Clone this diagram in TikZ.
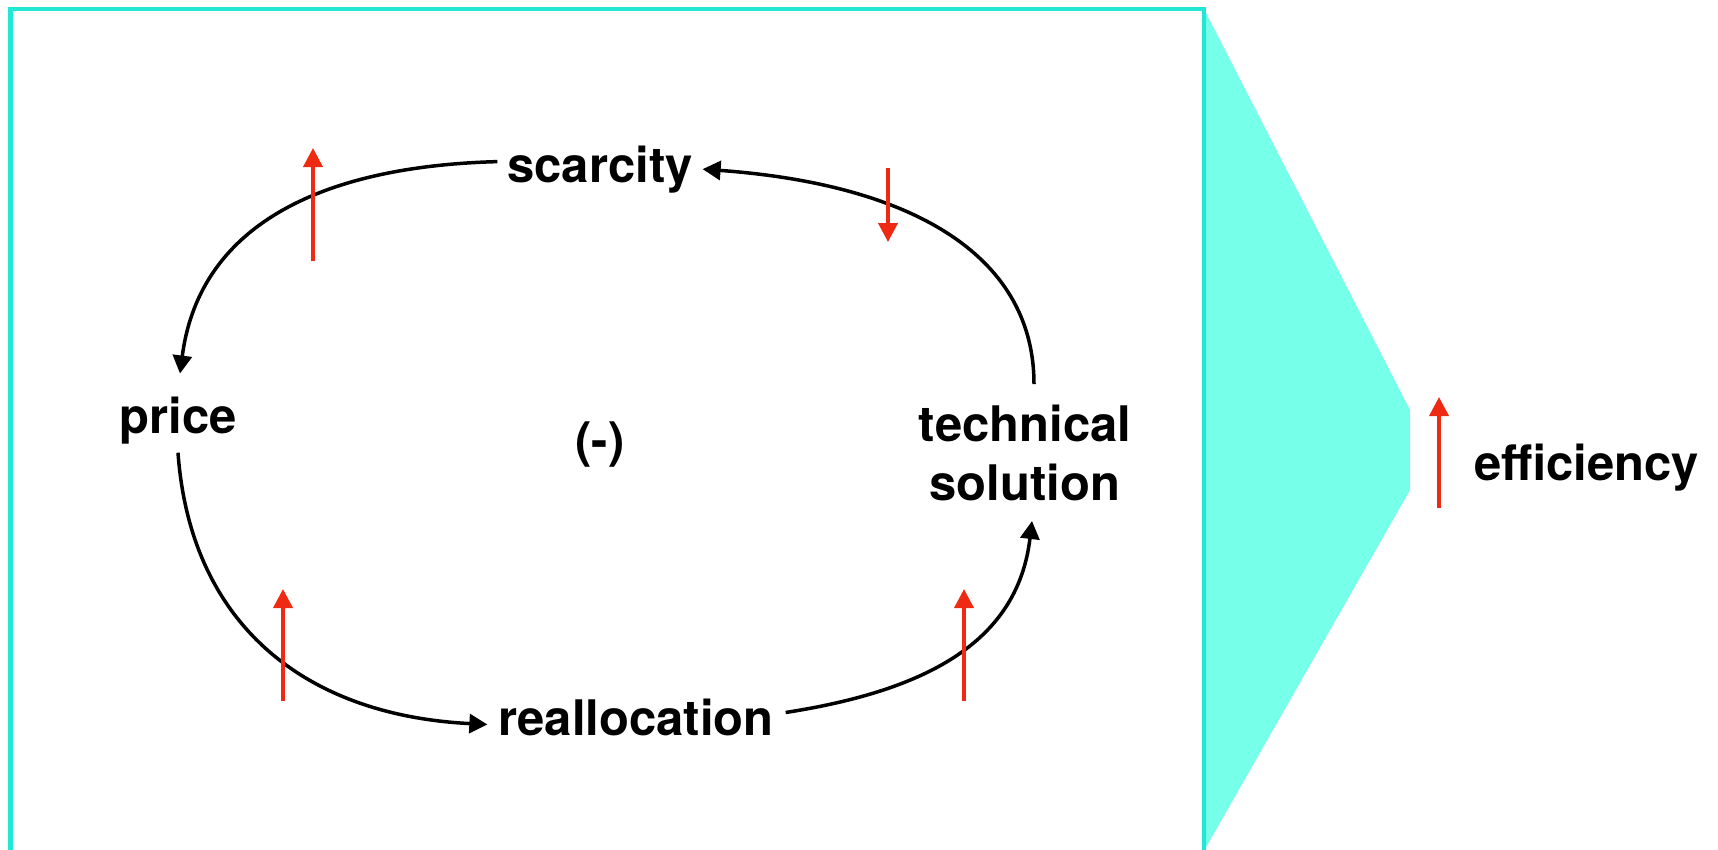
\documentclass[tikz,border=0pt]{standalone}
\usepackage{fontspec}
\setmainfont{TeX Gyre Heros}
\usetikzlibrary{arrows.meta}
\definecolor{boxline}{HTML}{20E8D4}
\definecolor{boxfill}{HTML}{76FFE9}
\definecolor{redarrow}{HTML}{EE2A12}
\tikzset{
  lbl/.style={inner sep=0pt, outer sep=0pt, font=\fontsize{19.6pt}{23.6pt}\selectfont\bfseries},
  loop/.style={line width=1.4pt, -{Triangle[length=7.2pt,width=7.6pt]}},
  trend/.style={line width=1.5pt, draw=redarrow, -{Triangle[length=7.6pt,width=7.6pt]}, redarrow}
}
\begin{document}
\begin{tikzpicture}[x=0.4pt,y=-0.4pt]
\useasboundingbox (0,0) rectangle (1718,849);
\begin{scope}
  \clip (0,0) rectangle (1718,849);
  \draw[boxline, line width=1.8pt] (10.5,9) rectangle (1204,900);
  \fill[boxfill] (1205,11) -- (1410,410) -- (1410,490) -- (1205,849) -- cycle;
  \draw[boxline, line width=0.5pt] (1205,11) -- (1205,849);
\end{scope}

\node[lbl, anchor=base] (scarcity) at (600,182) {scarcity};
\node[lbl, anchor=base] (price) at (178,433) {price};
\node[lbl, anchor=base] (realloc) at (636,735) {reallocation};
\node[lbl, anchor=center, align=center] (tech) at (1025,453) {technical\\solution};
\node[lbl, anchor=center] (neg) at (600,445) {(-)};
\node[lbl, anchor=base west] (eff) at (1474,480) {efficiency};

\draw[loop] ([xshift=-4pt,yshift=3pt]scarcity.west) .. controls (330,166) and (200,220) .. ([xshift=0.8pt,yshift=9.2pt]price.north);
\draw[loop] ([yshift=-3.6pt]price.south) .. controls (190,620) and (300,715) .. ([xshift=-4.4pt,yshift=-3pt]realloc.west);
\draw[loop] ([xshift=4.8pt,yshift=1.8pt]realloc.east) .. controls (930,690) and (1018,640) .. ([xshift=2.8pt,yshift=-8pt]tech.south);
\draw[loop] ([xshift=3.6pt,yshift=8.4pt]tech.north) .. controls (1034,260) and (920,185) .. ([xshift=4pt]scarcity.east);

\coordinate (r1a) at (313,261); \coordinate (r1b) at (313,148);
\coordinate (r2a) at (888,168); \coordinate (r2b) at (888,242);
\coordinate (r3a) at (283,701); \coordinate (r3b) at (283,589);
\coordinate (r4a) at (964,701); \coordinate (r4b) at (964,589);
\coordinate (r5a) at (1439,508); \coordinate (r5b) at (1439,397);
\draw[trend] (r1a) -- (r1b);
\draw[trend] (r2a) -- (r2b);
\draw[trend] (r3a) -- (r3b);
\draw[trend] (r4a) -- (r4b);
\draw[trend] (r5a) -- (r5b);
\end{tikzpicture}
\end{document}
